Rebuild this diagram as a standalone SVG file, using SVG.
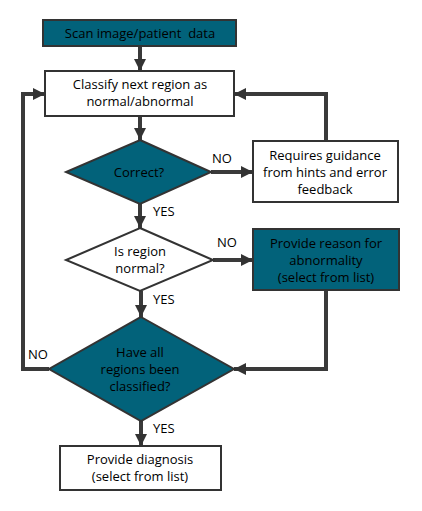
<svg xmlns="http://www.w3.org/2000/svg" width="422" height="511" viewBox="0 0 422 511">
<defs>
<marker id="ah" viewBox="0 0 10 10" refX="10" refY="5" markerWidth="3" markerHeight="3" markerUnits="strokeWidth" orient="auto">
<path d="M0,0 L10,5 L0,10 Z" fill="#333"/>
</marker>
</defs>
<style>
.box{stroke:#333;stroke-width:2;}
.teal{fill:#02627a;}
.white{fill:#fff;}
.t{font-family:"Open Sans","Noto Sans",sans-serif;font-size:13px;fill:#000;text-anchor:middle;}
.lbl{font-family:"Open Sans","Noto Sans",sans-serif;font-size:13px;fill:#000;}
.c{fill:none;stroke:#3a3a3a;stroke-width:4;marker-end:url(#ah);}
</style>
<rect width="422" height="511" fill="#fff"/>
<g id="connectors">
<path class="c" d="M140,46 V71"/>
<path class="c" d="M140,116 V140"/>
<path class="c" d="M211,172 H253"/>
<path class="c" d="M326,141 V94 H234"/>
<path class="c" d="M140,204 V228"/>
<path class="c" d="M213,260 H253"/>
<path class="c" d="M326,290 V369 H234"/>
<path class="c" d="M141,291 V317"/>
<path class="c" d="M49,369 H23 V94 H45"/>
<path class="c" d="M141,421 V446"/>
<text class="lbl" x="212" y="163">NO</text>
<text class="lbl" x="153" y="216">YES</text>
<text class="lbl" x="217" y="247">NO</text>
<text class="lbl" x="153" y="304">YES</text>
<text class="lbl" x="28" y="359">NO</text>
<text class="lbl" x="153" y="433">YES</text>
</g>
<g id="scan">
<rect class="box teal" x="43" y="20" width="193" height="26"/>
<text class="t" x="140" y="38" xml:space="preserve">Scan image/patient  data</text>
</g>
<g id="classify">
<rect class="box white" x="45" y="71" width="189" height="45"/>
<text class="t" x="140" y="89">Classify next region as</text>
<text class="t" x="140" y="106">normal/abnormal</text>
</g>
<g id="correct">
<polygon class="box teal" points="140,140 211,172 140,204 66,172"/>
<text class="t" x="139" y="177">Correct?</text>
</g>
<g id="guidance">
<rect class="box white" x="253" y="141" width="145" height="61"/>
<text class="t" x="325" y="160">Requires guidance</text>
<text class="t" x="325" y="177">from hints and error</text>
<text class="t" x="325" y="194">feedback</text>
</g>
<g id="isnormal">
<polygon class="box white" points="140,228 213,260 140,291 66,260"/>
<text class="t" x="140" y="256">Is region</text>
<text class="t" x="140" y="273">normal?</text>
</g>
<g id="reason">
<rect class="box teal" x="253" y="229" width="146" height="61"/>
<text class="t" x="326" y="248">Provide reason for</text>
<text class="t" x="326" y="265">abnormality</text>
<text class="t" x="326" y="282">(select from list)</text>
</g>
<g id="allclassified">
<polygon class="box teal" points="141,317 234,369 141,421 49,369"/>
<text class="t" x="140" y="357">Have all</text>
<text class="t" x="140" y="374">regions been</text>
<text class="t" x="140" y="391">classified?</text>
</g>
<g id="diagnosis">
<rect class="box white" x="60" y="446" width="161" height="44"/>
<text class="t" x="140" y="464">Provide diagnosis</text>
<text class="t" x="140" y="481">(select from list)</text>
</g>
</svg>
